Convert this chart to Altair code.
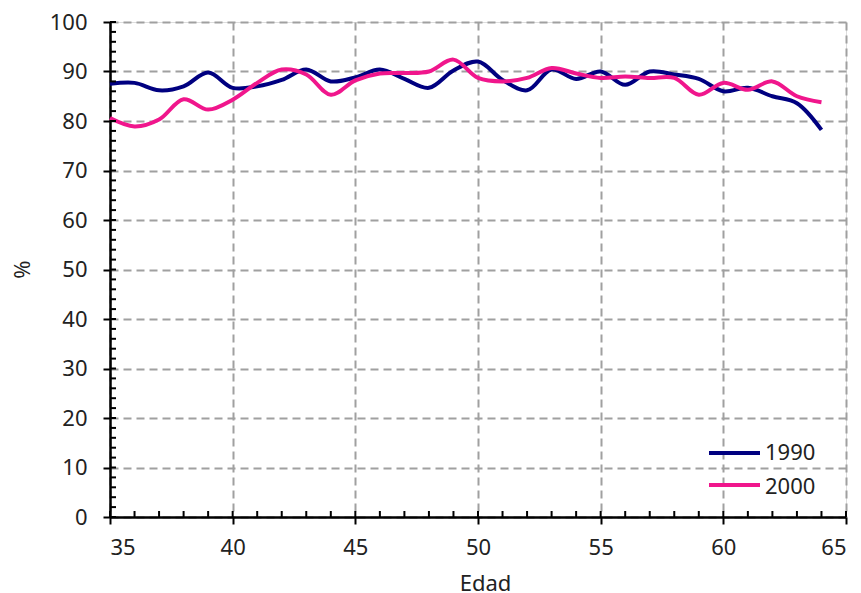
import altair as alt
import pandas as pd

ages = list(range(35, 65))
v1990 = [87.5, 87.7, 86.2, 87.0, 89.8, 86.7, 87.0, 88.3, 90.4, 88.0,
         88.8, 90.4, 88.5, 86.7, 90.2, 92.0, 88.3, 86.2, 90.4, 88.5,
         90.0, 87.3, 90.0, 89.4, 88.5, 86.0, 86.7, 85.0, 83.6, 78.2]
v2000 = [80.6, 78.9, 80.3, 84.4, 82.3, 84.3, 87.7, 90.4, 89.4, 85.3,
         88.2, 89.6, 89.7, 90.0, 92.4, 88.7, 88.0, 88.7, 90.7, 89.6,
         88.7, 89.0, 88.7, 88.7, 85.3, 87.7, 86.3, 88.0, 85.0, 83.8]
series = ["1990", "2000"]
colors = ["#000080", "#f0168c"]
x_major = [35, 40, 45, 50, 55, 60, 65]
x_minor = list(range(35, 66))
y_major = list(range(0, 101, 10))
y_minor = list(range(0, 101, 2))

df = pd.concat([
    pd.DataFrame({"Edad": ages, "valor": v1990, "serie": series[0]}),
    pd.DataFrame({"Edad": ages, "valor": v2000, "serie": series[1]}),
])
df_xminor = pd.DataFrame({"Edad": x_minor})
df_yminor = pd.DataFrame({"valor": y_minor})
df_leg = pd.DataFrame({"serie": series})

FONT = "Noto Sans"
FS = 22
TXT = "#222222"
W, H = 736, 495

xscale = alt.Scale(domain=[35, 65], nice=False, zero=False)
yscale = alt.Scale(domain=[0, 100], nice=False)
cscale = alt.Scale(domain=series, range=colors)

xaxis = alt.Axis(
    values=x_major, tickSize=7, tickWidth=2, domainWidth=2.5,
    domainColor="black", tickColor="black", labelFontSize=FS,
    labelFont=FONT, labelColor=TXT, labelPadding=13,
    grid=True, gridDash=[8, 5], gridColor="#a0a0a0", gridWidth=2,
    title="Edad", titleFont=FONT, titleFontSize=FS, titleFontWeight="normal",
    titleColor=TXT, titleX=375, titleY=66, titleBaseline="middle",
    titleAlign="center")
yaxis = alt.Axis(
    values=y_major, tickSize=7, tickWidth=2, domainWidth=2.5,
    domainColor="black", tickColor="black", labelFontSize=FS,
    labelFont=FONT, labelColor=TXT, labelPadding=16,
    grid=True, gridDash=[8, 5], gridColor="#a0a0a0", gridWidth=2,
    title="%", titleFont=FONT, titleFontSize=FS, titleFontWeight="normal",
    titleColor=TXT, titleX=-88, titleY=247, titleAngle=-90,
    titleBaseline="middle", titleAlign="center")

lines = alt.Chart(df).mark_line(strokeWidth=4, interpolate="catmull-rom").encode(
    x=alt.X("Edad:Q", scale=xscale, axis=xaxis, title="Edad"),
    y=alt.Y("valor:Q", scale=yscale, axis=yaxis, title="%"),
    color=alt.Color("serie:N", scale=cscale, legend=None),
)

xminor = alt.Chart(df_xminor).mark_tick(
    orient="vertical", size=6, thickness=2, color="black", opacity=1
).encode(
    x=alt.X("Edad:Q", scale=xscale, axis=xaxis, title="Edad"),
    y=alt.value(H - 3),
)

yminor = alt.Chart(df_yminor).mark_tick(
    orient="horizontal", size=6, thickness=2, color="black", opacity=1
).encode(
    y=alt.Y("valor:Q", scale=yscale, axis=yaxis, title="%"),
    x=alt.value(3),
)

# legend (inside plot, bottom right)
leg_layers = []
for i, s in enumerate(series):
    sub = alt.Chart(df_leg).transform_filter(alt.datum.serie == s)
    leg_layers.append(sub.mark_rule(strokeWidth=4).encode(
        x=alt.value(599), x2=alt.value(650), y=alt.value(431 + 32 * i),
        color=alt.Color("serie:N", scale=cscale, legend=None)))
    leg_layers.append(sub.mark_text(
        align="left", baseline="middle", font=FONT, fontSize=FS, color=TXT
    ).encode(
        x=alt.value(655), y=alt.value(431 + 34 * i), text="serie:N"))

chart = alt.layer(lines, xminor, yminor, *leg_layers).properties(
    width=W, height=H,
    autosize=alt.AutoSizeParams(type="none"),
    padding={"left": 102, "top": 14, "right": 7, "bottom": 76},
).configure_view(stroke=None).configure(background="white")

chart.save("out.html", embed_options={"renderer": "svg", "actions": False})
